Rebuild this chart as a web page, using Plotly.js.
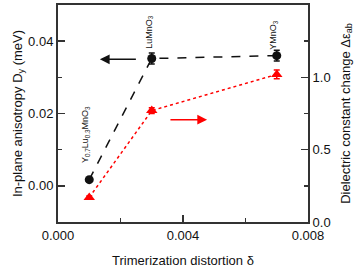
<!DOCTYPE html>
<html><head><meta charset="utf-8">
<script src="https://cdn.plot.ly/plotly-3.0.1.min.js"></script>
<style>body{margin:0;padding:0;background:#fff}#chart{width:361px;height:269px}</style>
</head><body><div id="chart"></div>
<script>
// Data
const distortion = [0.001, 0.003, 0.007];
const anisotropy = [0.0017, 0.0352, 0.0360];
const anisotropyErr = [0.0003, 0.0015, 0.0015];
const dielectric = [0.17, 0.77, 1.02];
const dielectricErr = [0.01, 0.02, 0.03];
const labels = ['Y<sub>0.7</sub>Lu<sub>0.3</sub>MnO<sub>3</sub>', 'LuMnO<sub>3</sub>', 'YMnO<sub>3</sub>'];
const labelY = [0.0143, 0.0425, 0.0417];
const labelX = [0.00086, 0.00290, 0.00687];

const font = {family: 'Liberation Sans, Arial, sans-serif', color: '#111'};

const traces = [
  {x: distortion, y: anisotropy, type: 'scatter', mode: 'lines+markers', yaxis: 'y',
   line: {color: '#111', dash: 'dash', width: 1.5},
   marker: {symbol: 'circle', size: 9, color: '#111'},
   error_y: {type: 'data', array: anisotropyErr, color: '#111', thickness: 1.5, width: 3},
   cliponaxis: false},
  {x: distortion, y: dielectric, type: 'scatter', mode: 'lines+markers', yaxis: 'y2',
   line: {color: '#ff0000', dash: 'dot', width: 1.5},
   marker: {symbol: 'triangle-up', size: 10, color: '#ff0000'},
   error_y: {type: 'data', array: dielectricErr, color: '#ff0000', thickness: 1.5, width: 3},
   cliponaxis: false}
];

const annotations = labels.map((t, i) => ({
  x: labelX[i], y: labelY[i], xref: 'x', yref: 'y', text: t, showarrow: false,
  textangle: -90, font: Object.assign({}, font, {size: 9})
}));
annotations.push({x: 0.00134, y: 0.0350, xref: 'x', yref: 'y', ax: 0.00254, ay: 0.0350,
  axref: 'x', ayref: 'y', showarrow: true, arrowhead: 2, arrowsize: 1.3, arrowwidth: 1.5,
  arrowcolor: '#111', text: ''});
annotations.push({x: 0.00477, y: 0.0183, xref: 'x', yref: 'y', ax: 0.00355, ay: 0.0183,
  axref: 'x', ayref: 'y', showarrow: true, arrowhead: 2, arrowsize: 1.3, arrowwidth: 1.5,
  arrowcolor: '#ff0000', text: ''});

const axCommon = {
  showline: true, linecolor: '#333', linewidth: 2, ticks: 'inside', ticklen: 7,
  tickwidth: 1.5, tickcolor: '#333', showgrid: false, zeroline: false,
  tickfont: Object.assign({}, font, {size: 13}), mirror: false
};

const layout = {
  width: 361, height: 269, margin: {l: 58, r: 53, t: 5, b: 47},
  paper_bgcolor: '#fff', plot_bgcolor: '#fff', showlegend: false,
  font: font,
  xaxis: Object.assign({}, axCommon, {range: [0, 0.008], tickvals: [0, 0.004, 0.008],
    ticktext: ['0.000', '0.004', '0.008'],
    minor: {tickvals: [0.002, 0.006], ticks: 'inside', ticklen: 4, tickwidth: 1.5, tickcolor: '#333'},
    title: {text: 'Trimerization distortion δ', font: Object.assign({}, font, {size: 13}), standoff: 14}, mirror: true}),
  yaxis: Object.assign({}, axCommon, {range: [-0.01, 0.05], tickvals: [0, 0.02, 0.04],
    ticktext: ['0.00', '0.02', '0.04'],
    minor: {tickvals: [0.01, 0.03], ticks: 'inside', ticklen: 4, tickwidth: 1.5, tickcolor: '#333'},
    title: {text: 'In-plane anisotropy D<sub>y</sub> (meV)', font: Object.assign({}, font, {size: 13}), standoff: 3}}),
  yaxis2: Object.assign({}, axCommon, {range: [0, 1.5], overlaying: 'y', side: 'right',
    tickvals: [0, 0.5, 1.0, 1.5], ticktext: ['0.0', '0.5', '1.0', '1.5'],
    minor: {tickvals: [0.25, 0.75, 1.25], ticks: 'inside', ticklen: 4, tickwidth: 1.5, tickcolor: '#333'},
    title: {text: 'Dielectric constant change Δε<sub>ab</sub>', font: Object.assign({}, font, {size: 13}), standoff: 11}}),
  annotations: annotations
};

Plotly.newPlot('chart', traces, layout, {displayModeBar: false, staticPlot: true});
</script></body></html>
